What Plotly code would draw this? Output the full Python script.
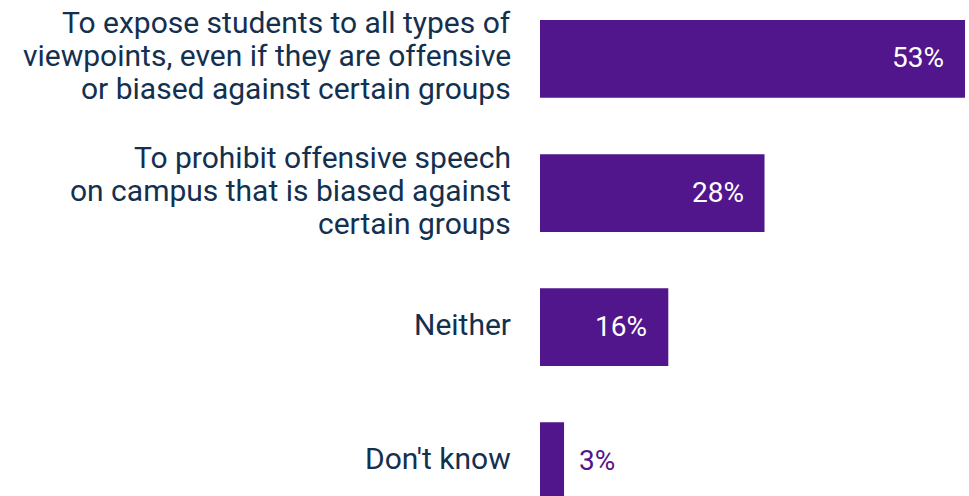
import plotly.graph_objects as go

# Survey responses and their shares (percent)
categories = ["expose", "prohibit", "neither", "dontknow"]
label_lines = [
    ["To expose students to all types of",
     "viewpoints, even if they are offensive",
     "or biased against certain groups"],
    ["To prohibit offensive speech",
     "on campus that is biased against",
     "certain groups"],
    ["Neither"],
    ["Don't know"],
]
values = [53, 28, 16, 3]

BAR = "#52168C"
TEXT = "#14304F"
FONT = "Roboto, Arial, sans-serif"
LINE_PITCH = 33

fig = go.Figure(go.Bar(
    y=categories,
    x=values,
    orientation="h",
    marker=dict(color=BAR, line=dict(width=0)),
    hoverinfo="skip",
))

annotations = []
for cat, lines in zip(categories, label_lines):
    n = len(lines)
    for i, line in enumerate(lines):
        annotations.append(dict(
            x=0, y=cat, xref="x", yref="y",
            text=line, showarrow=False,
            xanchor="right", yanchor="middle",
            xshift=-27, yshift=((n - 1) / 2 - i) * LINE_PITCH + 3,
            font=dict(family=FONT, size=30, color=TEXT),
        ))

for cat, v in zip(categories, values):
    inside = v >= 10
    annotations.append(dict(
        x=v, y=cat, xref="x", yref="y",
        text=f"{v}%", showarrow=False,
        xanchor="right" if inside else "left", yanchor="middle",
        xshift=-19 if inside else 13, yshift=1,
        font=dict(family=FONT, size=28, color="white" if inside else BAR),
    ))

fig.update_layout(
    width=969, height=496,
    margin=dict(l=540, r=0, t=0, b=0),
    paper_bgcolor="white", plot_bgcolor="white",
    bargap=0.42,
    showlegend=False,
    annotations=annotations,
    xaxis=dict(range=[0, 53.5], visible=False, fixedrange=True),
    yaxis=dict(range=[3.26, -0.44], visible=False, fixedrange=True),
)

fig.write_html("out.html", config={"displayModeBar": False})
